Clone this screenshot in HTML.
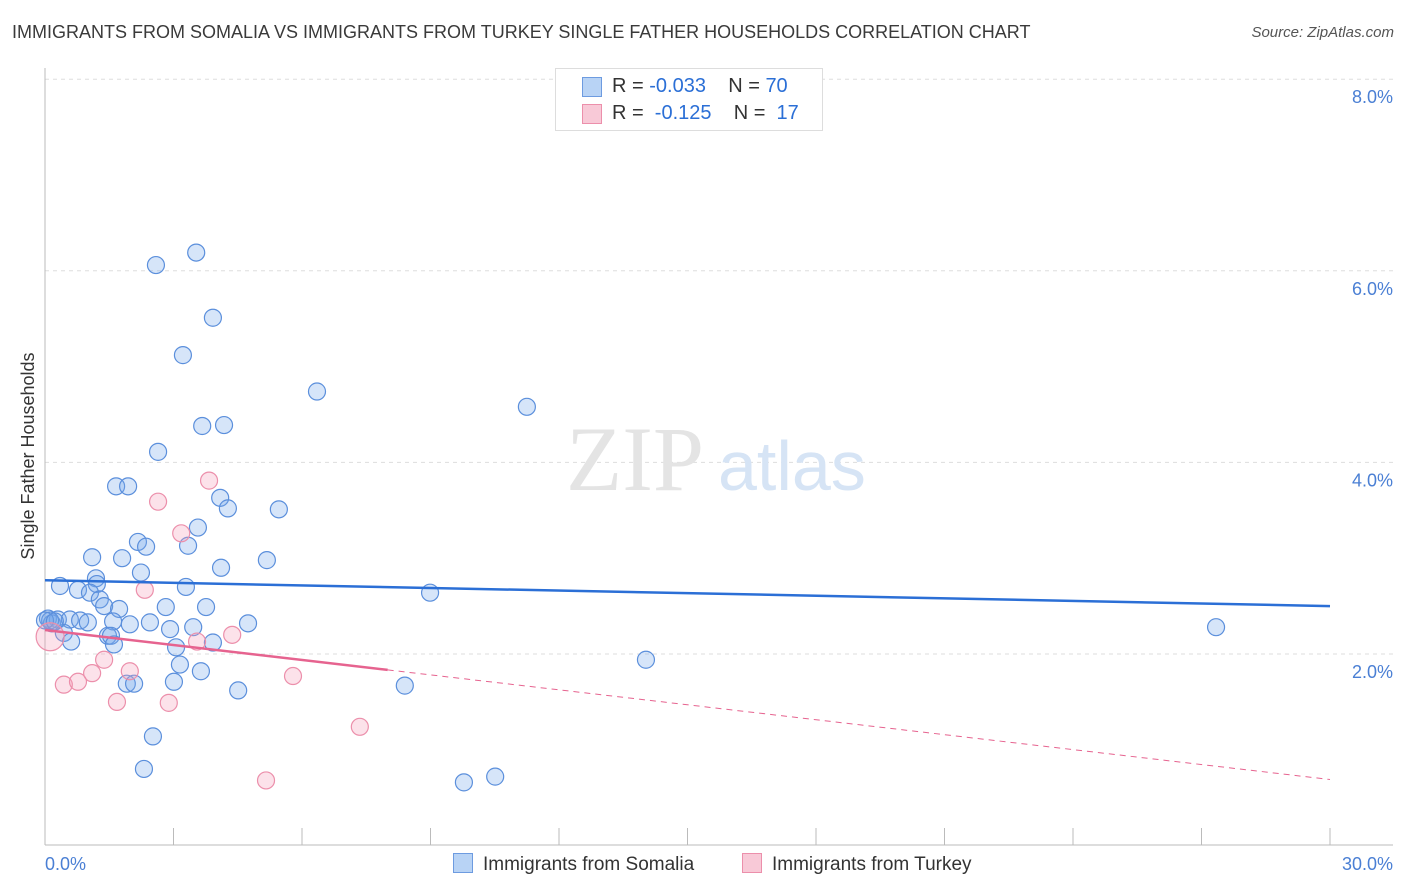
<!DOCTYPE html>
<html><head><meta charset="utf-8"><style>
body{margin:0;background:#fff;font-family:"Liberation Sans",sans-serif;}
#wrap{position:relative;width:1406px;height:892px;overflow:hidden;}
.t{position:absolute;white-space:nowrap;}
</style></head><body>
<div id="wrap">
<div class="t" style="left:12px;top:22px;font-size:18px;color:#3a3a3a">IMMIGRANTS FROM SOMALIA VS IMMIGRANTS FROM TURKEY SINGLE FATHER HOUSEHOLDS CORRELATION CHART</div>
<div class="t" style="right:12px;top:24px;font-size:15px;color:#555;font-style:italic">Source: ZipAtlas.com</div>
<svg id="svg" width="1406" height="892" style="position:absolute;left:0;top:0"></svg>
</div>
<script>
const somaliaX=[2.59,3.53,3.92,3.22,6.35,11.25,3.67,4.18,2.64,1.66,1.94,4.09,4.27,5.46,3.57,2.17,2.36,3.34,1.10,1.80,5.18,4.11,2.24,0.35,1.19,1.21,0.77,1.05,3.29,8.99,1.28,1.38,1.73,2.82,3.76,0.07,0.30,0.58,0.82,1.00,1.59,1.98,2.45,2.92,3.46,4.74,0.16,0.44,1.47,1.54,1.61,3.06,3.92,0.61,3.15,3.64,14.03,1.91,2.08,3.01,4.51,8.40,27.34,2.52,2.31,9.78,10.51,0.12,0.0,0.23];
const somaliaY=[6.06,6.19,5.51,5.12,4.74,4.58,4.38,4.39,4.11,3.75,3.75,3.63,3.52,3.51,3.32,3.17,3.12,3.13,3.01,3.00,2.98,2.90,2.85,2.71,2.79,2.73,2.67,2.64,2.70,2.64,2.57,2.50,2.47,2.49,2.49,2.37,2.36,2.36,2.35,2.33,2.34,2.31,2.33,2.26,2.28,2.32,2.32,2.22,2.19,2.19,2.10,2.07,2.12,2.13,1.89,1.82,1.94,1.69,1.69,1.71,1.62,1.67,2.28,1.14,0.80,0.66,0.72,2.35,2.35,2.34];
const turkeyX=[0.12,0.44,0.77,1.10,1.38,1.68,1.98,2.33,2.64,2.89,3.18,3.55,3.83,4.37,5.79,7.35,5.16];
const turkeyY=[2.18,1.68,1.71,1.80,1.94,1.50,1.82,2.67,3.59,1.49,3.26,2.13,3.81,2.20,1.77,1.24,0.68];
const somaliaTrend=[2.77,2.50]; // y at x=0 and x=30
const turkeyTrend=[2.25,0.69];  // y at x=0 and x=30
const turkeySolidEnd=8.0;
const xTicks=[0,3,6,9,12,15,18,21,24,27,30];
const yTicks=[2,4,6,8];
const yTickLabels=["2.0%","4.0%","6.0%","8.0%"];

const sx=v=>45+v/30*1285;
const sy=v=>845.6-v*95.8;
const svg=document.getElementById('svg');
const NS='http://www.w3.org/2000/svg';
function mk(tag,attrs,parent){const e=document.createElementNS(NS,tag);for(const k in attrs)e.setAttribute(k,attrs[k]);(parent||svg).appendChild(e);return e;}

yTicks.forEach((t,i)=>{
  const g=mk('line',{x1:45,x2:1393,y1:sy(t),y2:sy(t),stroke:'#ddd','stroke-dasharray':'4,4'});
  
  
  const l=mk('text',{x:1393,y:sy(t)+24,'text-anchor':'end','font-size':18,fill:'#4a7fd4','font-family':'Liberation Sans'});
  l.textContent=yTickLabels[i];
  
  
});
const ax=mk('line',{x1:45,x2:45,y1:68,y2:845,stroke:'#bbb'});


const bx=mk('line',{x1:45,x2:1393,y1:845,y2:845,stroke:'#bbb'});


xTicks.forEach(t=>{
  const k=mk('line',{x1:sx(t),x2:sx(t),y1:828,y2:845,stroke:'#bbb'});
  
  
});
[[0,'0.0%','start',45],[30,'30.0%','end',1393]].forEach(a=>{
  const l=mk('text',{x:a[3],y:870,'text-anchor':a[2],'font-size':18,fill:'#4a7fd4','font-family':'Liberation Sans'});
  l.textContent=a[1];
  
  
});
const yt=mk('text',{x:0,y:0,transform:'translate(34,456) rotate(-90)','text-anchor':'middle','font-size':18,fill:'#333','font-family':'Liberation Sans'});
yt.textContent='Single Father Households';


// watermark
const wm=mk('text',{x:720,y:490,'text-anchor':'middle','font-size':92,fill:'#e4e4e4','font-family':'Liberation Serif'});
wm.textContent='ZIP';


wm.setAttribute('x',635);
const wm2=mk('text',{x:718,y:490,'font-size':70,fill:'#d6e4f5','font-family':'Liberation Sans'});
wm2.textContent='atlas';



somaliaX.forEach((x,i)=>{
  const c=mk('circle',{cx:sx(x),cy:sy(somaliaY[i]),r:8.5,fill:'rgba(120,170,235,0.3)',stroke:'#5b8fdc','stroke-width':1.2});
  
  
});
turkeyX.forEach((x,i)=>{
  const c=mk('circle',{cx:sx(x),cy:sy(turkeyY[i]),r:i===0?14:8.5,fill:'rgba(245,160,185,0.3)',stroke:'#ec8fab','stroke-width':1.2});
  
  
});
const bl=mk('line',{x1:sx(0),x2:sx(30),y1:sy(somaliaTrend[0]),y2:sy(somaliaTrend[1]),stroke:'#2b6fd6','stroke-width':2.5});


const tAt=x=>turkeyTrend[0]+(turkeyTrend[1]-turkeyTrend[0])*x/30;
const pl=mk('line',{x1:sx(0),x2:sx(turkeySolidEnd),y1:sy(tAt(0)),y2:sy(tAt(turkeySolidEnd)),stroke:'#e6638f','stroke-width':2.5});


const pd=mk('line',{x1:sx(turkeySolidEnd),x2:sx(30),y1:sy(tAt(turkeySolidEnd)),y2:sy(tAt(30)),stroke:'#e6638f','stroke-width':1,'stroke-dasharray':'6,5'});


</script>
<div class="t" style="left:555px;top:68px;width:266px;height:61px;border:1px solid #ddd;background:#fff;font-size:20px">
 <div style="position:absolute;left:26px;top:8px;width:18px;height:18px;background:#b8d3f5;border:1px solid #6d9be0"></div>
 <div style="position:absolute;left:56px;top:6px;color:#333">R = <span style="color:#2b6fd6">-0.033</span>&nbsp;&nbsp;&nbsp; N = <span style="color:#2b6fd6">70</span></div>
 <div style="position:absolute;left:26px;top:35px;width:18px;height:18px;background:#f8c9d7;border:1px solid #ec8fab"></div>
 <div style="position:absolute;left:56px;top:33px;color:#333">R = &nbsp;<span style="color:#2b6fd6">-0.125</span>&nbsp;&nbsp;&nbsp; N = &nbsp;<span style="color:#2b6fd6">17</span></div>
</div>
<div class="t" style="left:453px;top:853px;font-size:19px;color:#333"><span style="display:inline-block;width:18px;height:18px;background:#b8d3f5;border:1px solid #6d9be0;vertical-align:-3px;margin-right:10px"></span>Immigrants from Somalia</div>
<div class="t" style="left:742px;top:853px;font-size:19px;color:#333"><span style="display:inline-block;width:18px;height:18px;background:#f8c9d7;border:1px solid #ec8fab;vertical-align:-3px;margin-right:10px"></span>Immigrants from Turkey</div>
</body></html>
